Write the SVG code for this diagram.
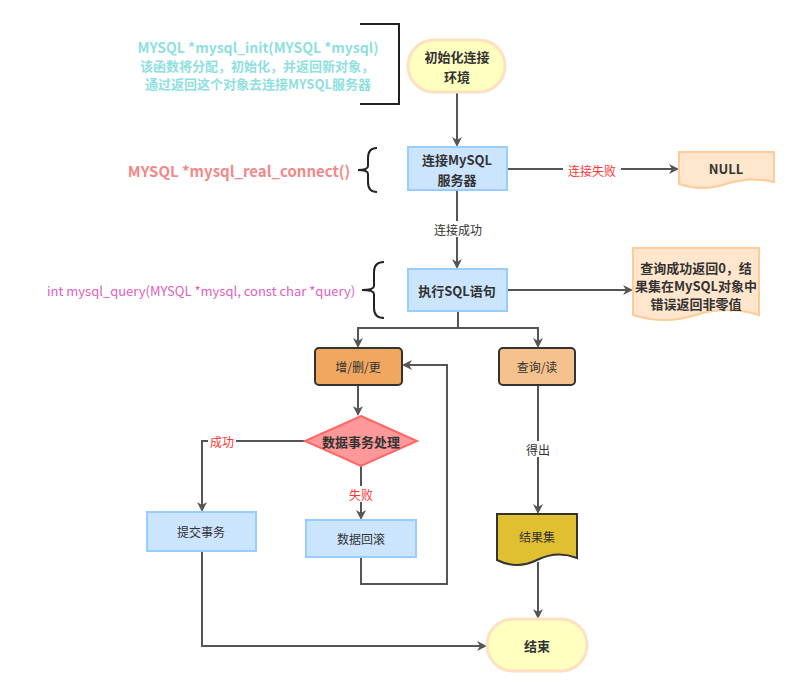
<svg xmlns="http://www.w3.org/2000/svg" width="798" height="697" viewBox="0 0 798 697">
<style>
text{font-family:"Noto Sans CJK SC","Liberation Sans",sans-serif;text-anchor:middle;dominant-baseline:central}
.b{font-weight:bold;font-size:13px;fill:#333}
.l{font-size:12px;fill:#333}
.e{stroke:#555;stroke-width:2;fill:none}
.blue{fill:#cce5ff;stroke:#99ccff;stroke-width:2}
</style>
<defs><marker id="a" markerWidth="10" markerHeight="10" refX="8" refY="5" orient="auto" markerUnits="userSpaceOnUse"><path d="M0,0 L10,5 L0,10 L3,5 z" fill="#555"/></marker></defs>
<rect width="798" height="697" fill="#fff"/>
<g id="annotations">
<text x="258" y="47" font-size="14" font-weight="bold" fill="#8fdfdf">MYSQL *mysql_init(MYSQL *mysql)</text>
<text x="257" y="65" font-size="13" font-weight="bold" fill="#8fdfdf">该函数将分配，初始化，并返回新对象，</text>
<text x="258" y="83" font-size="13" font-weight="bold" fill="#8fdfdf">通过返回这个对象去连接MYSQL服务器</text>
<path d="M360,24 H399 V104 H360" fill="none" stroke="#222" stroke-width="2"/>
<text x="239" y="170" font-size="15" font-weight="bold" fill="#f08a8a">MYSQL *mysql_real_connect()</text>
<path d="M377,148 Q368,148 368,158 V166 Q368,170 358,170 Q368,170 368,174 V182 Q368,192 377,192" fill="none" stroke="#222" stroke-width="2"/>
<text x="201" y="290" font-size="13" fill="#e060c0">int mysql_query(MYSQL *mysql, const char *query)</text>
<path d="M384,262 Q374,262 374,272 V286 Q374,290 362,290 Q374,290 374,294 V308 Q374,318 384,318" fill="none" stroke="#222" stroke-width="2"/>
</g>
<g id="edges">
<path class="e" d="M457,92 V145" marker-end="url(#a)"/>
<path class="e" d="M507,169 H677" marker-end="url(#a)"/>
<rect x="563" y="162" width="58" height="16" fill="#fff"/>
<text x="592" y="170" font-size="12" fill="#ff3333">连接失败</text>
<path class="e" d="M457,190 V267" marker-end="url(#a)"/>
<rect x="430" y="221" width="56" height="16" fill="#fff"/>
<text x="458" y="229" class="l">连接成功</text>
<path class="e" d="M507,290 H631" marker-end="url(#a)"/>
<path class="e" d="M458,311 V328 H538 V346" marker-end="url(#a)"/>
<path class="e" d="M458,328 H358 V346" marker-end="url(#a)"/>
<path class="e" d="M358,385 V414" marker-end="url(#a)"/>
<path class="e" d="M305,441 H202 V510" marker-end="url(#a)"/>
<rect x="208" y="433" width="28" height="16" fill="#fff"/>
<text x="222" y="441" font-size="12" fill="#ff3333">成功</text>
<path class="e" d="M361,466 V518" marker-end="url(#a)"/>
<rect x="347" y="486" width="28" height="16" fill="#fff"/>
<text x="361" y="494" font-size="12" fill="#ff3333">失败</text>
<path class="e" d="M361,557 V584 H447 V365 H404" marker-end="url(#a)"/>
<path class="e" d="M202,551 V646 H485" marker-end="url(#a)"/>
<path class="e" d="M538,385 V512" marker-end="url(#a)"/>
<rect x="524" y="441" width="28" height="16" fill="#fff"/>
<text x="538" y="449" class="l">得出</text>
<path class="e" d="M538,562 V617" marker-end="url(#a)"/>
</g>
<g id="init"><rect x="408" y="40" width="97" height="52" rx="26" fill="#ffffc0" stroke="#ffe0c0" stroke-width="3"/><text x="457" y="56" class="b">初始化连接</text><text x="457" y="76" class="b">环境</text></g>
<g id="connect"><rect x="408" y="147" width="99" height="43" class="blue"/><text x="457" y="159" class="b">连接MySQL</text><text x="457" y="179" class="b">服务器</text></g>
<g id="null"><path d="M679,152 H774 V182 Q750,176 726,184 Q702,192 679,184 Z" fill="#ffe6cc" stroke="#ffcc99" stroke-width="2"/><text x="726" y="168" class="b">NULL</text></g>
<g id="exec"><rect x="408" y="269" width="99" height="42" class="blue"/><text x="457" y="290" class="b">执行SQL语句</text></g>
<g id="result"><path d="M633,248 H759 V315 Q727,305 696,315 Q664,325 633,315 Z" fill="#ffe6cc" stroke="#ffcc99" stroke-width="2"/><text x="696" y="267" class="b">查询成功返回0，结</text><text x="696" y="285" class="b">果集在MySQL对象中</text><text x="696" y="303" class="b">错误返回非零值</text></g>
<g id="modify"><rect x="315" y="348" width="87" height="37" rx="4" fill="#f0a860" stroke="#333" stroke-width="2"/><text x="358" y="366" class="l">增/删/更</text></g>
<g id="query"><rect x="499" y="348" width="76" height="37" rx="4" fill="#f5c18c" stroke="#333" stroke-width="2"/><text x="537" y="366" class="l">查询/读</text></g>
<g id="tx"><path d="M361,416 L417,441 L361,466 L305,441 Z" fill="#ff9999" stroke="#ff6666" stroke-width="2"/><text x="361" y="441" class="b">数据事务处理</text></g>
<g id="commit"><rect x="147" y="512" width="109" height="39" class="blue"/><text x="201" y="531" class="l">提交事务</text></g>
<g id="rollback"><rect x="306" y="520" width="110" height="37" class="blue"/><text x="361" y="538" class="l">数据回滚</text></g>
<g id="resultset"><path d="M497,514 H577 V558 Q557,550 537,560 Q517,570 497,560 Z" fill="#e0c030" stroke="#333" stroke-width="2"/><text x="537" y="536" class="l">结果集</text></g>
<g id="end"><rect x="487" y="619" width="100" height="52" rx="26" fill="#ffffc0" stroke="#ffe0c0" stroke-width="3"/><text x="537" y="645" class="b">结束</text></g>
</svg>
